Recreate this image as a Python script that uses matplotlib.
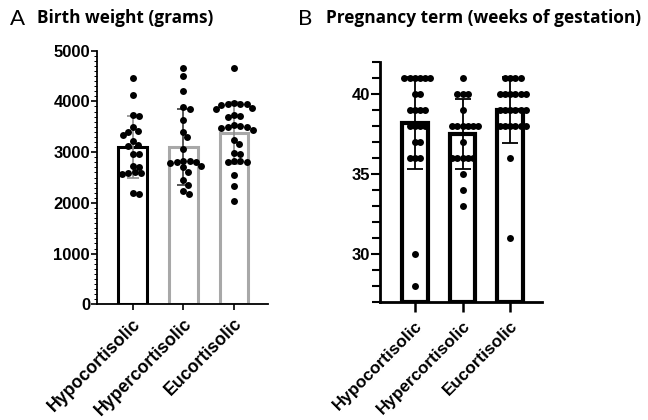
# -*- coding: utf-8 -*-
"""
Birth weight / pregnancy term by cortisol group - bar + scatter (mean ± SD)
output: out.png
"""

import numpy as np
import matplotlib
matplotlib.use("Agg")
import matplotlib.pyplot as plt
import matplotlib.ticker as mticker

plt.rcParams["font.family"] = ["Liberation Sans", "DejaVu Sans"]
plt.rcParams["font.weight"] = "bold"

# ── data ─────────────────────────────────────────────
groups = ["Hypocortisolic", "Hypercortisolic", "Eucortisolic"]

# A: birth weight (grams)
bw_hypo = [4470, 4130, 3730, 3720, 3500, 3420, 3400, 3340, 3220, 3150, 3130,
           2960, 2960, 2720, 2710, 2600, 2590, 2580, 2570, 2200, 2180]
bw_hyper = [4660, 4500, 4200, 3890, 3860, 3630, 3400, 3300, 3070, 2830, 2820,
            2810, 2800, 2790, 2720, 2700, 2610, 2450, 2360, 2240, 2180]
bw_eu = [4650, 3960, 3950, 3950, 3940, 3930, 3870, 3850, 3730, 3720, 3700,
         3530, 3520, 3500, 3490, 3470, 3430, 3240, 3160, 2980, 2960, 2830,
         2820, 2810, 2800, 2550, 2330, 2040]
bw_mean = [3110, 3110, 3370]
bw_sd = [610, 750, 610]

# B: pregnancy term (weeks)
wk_hypo = [41] * 6 + [40] * 2 + [39] * 4 + [38] * 4 + [37] * 2 + [36] * 3 + [30, 28]
wk_hyper = [41] + [40] * 3 + [39] + [38] * 6 + [37] + [36] * 5 + [35, 34, 33]
wk_eu = [41] * 4 + [40] * 6 + [39] * 6 + [38] * 6 + [36, 31]
wk_mean = [38.2, 37.5, 39.0]
wk_sd = [2.9, 2.2, 2.05]


def swarm_x(ax, x0, values, d):
    """simple beeswarm: horizontal offsets (data units) so dots of diameter d px don't overlap"""
    values = np.asarray(values, dtype=float)
    ys = ax.transData.transform(np.column_stack([np.full(len(values), x0), values]))[:, 1]
    order = np.argsort(-ys)
    placed = []
    xs = np.zeros(len(values))
    for i in order:
        y = ys[i]
        cands = [0.0]
        for px, py in placed:
            dy = abs(py - y)
            if dy < d:
                dx = np.sqrt(d * d - dy * dy)
                cands += [px + dx, px - dx]
        cands.sort(key=abs)
        for c in cands:
            if all((c - px) ** 2 + (y - py) ** 2 >= d * d - 1e-6 for px, py in placed):
                xs[i] = c
                break
        placed.append((xs[i], y))
    x0pix = ax.transData.transform((x0, 0))[0]
    return ax.transData.inverted().transform(np.column_stack([x0pix + xs, ys]))[:, 0]


fig = plt.figure(figsize=(6.48, 4.2), dpi=100)

# ── panel A ─────────────────────────────────────────
axA = fig.add_axes([97 / 648, (420 - 304.3) / 420, 171 / 648, 253.6 / 420])
axA.set_xlim(-0.70, 2.67)
axA.set_ylim(0, 5000)
x = np.arange(3)
edgeA = ["black", "#a8a8a8", "#a8a8a8"]
errA = ["#8c8c8c", "#3a3a3a", "#8c8c8c"]
axA.bar(x, bw_mean, width=0.565, color="white", edgecolor=edgeA, linewidth=2.2, zorder=2)
for i in range(3):
    axA.errorbar(x[i], bw_mean[i], yerr=bw_sd[i], fmt="none", ecolor=errA[i],
                 elinewidth=1.2, capsize=4, capthick=1.2, zorder=3)
for i, vals in enumerate([bw_hypo, bw_hyper, bw_eu]):
    axA.scatter(swarm_x(axA, i, vals, 6.5), vals, s=25, color="black", zorder=4, linewidths=0)

axA.yaxis.set_major_locator(mticker.MultipleLocator(1000))
axA.yaxis.set_minor_locator(mticker.MultipleLocator(100))
axA.set_xticks(x)
axA.set_xticklabels(groups, rotation=45, ha="right", rotation_mode="anchor")
axA.tick_params(axis="y", which="major", length=4.5, width=1.2, pad=0.5, labelsize=12)
axA.tick_params(axis="y", which="minor", length=2, width=0.7)
axA.tick_params(axis="x", length=4, width=1.2, pad=4, labelsize=12.8)
for s in ["top", "right"]:
    axA.spines[s].set_visible(False)
for s in ["left", "bottom"]:
    axA.spines[s].set_linewidth(1.3)

# ── panel B ─────────────────────────────────────────
axB = fig.add_axes([379.5 / 648, (420 - 301.7) / 420, 162.2 / 648, 239.4 / 420])
axB.set_xlim(-0.74, 2.66)
axB.set_ylim(27, 42)
axB.bar(x, np.array(wk_mean) - 27, bottom=27, width=0.54, color="white",
        edgecolor="black", linewidth=3, zorder=2)
axB.errorbar(x, wk_mean, yerr=wk_sd, fmt="none", ecolor="black",
             elinewidth=1.3, capsize=6, capthick=1.3, zorder=3)
for i, vals in enumerate([wk_hypo, wk_hyper, wk_eu]):
    axB.scatter(swarm_x(axB, i, vals, 5.2), vals, s=25, color="black", zorder=4, linewidths=0)

axB.yaxis.set_major_locator(mticker.FixedLocator([30, 35, 40]))
axB.yaxis.set_minor_locator(mticker.MultipleLocator(1))
axB.set_xticks(x)
axB.set_xticklabels(groups, rotation=45, ha="right", rotation_mode="anchor")
axB.tick_params(axis="y", which="major", length=6.5, width=1.5, pad=0.5, labelsize=12)
axB.tick_params(axis="y", which="minor", length=5.5, width=1.5)
axB.tick_params(axis="x", length=7, width=1.8, pad=5, labelsize=12.3)
for s in ["top", "right"]:
    axB.spines[s].set_visible(False)
for s in ["left", "bottom"]:
    axB.spines[s].set_linewidth(2)

# ── titles ───────────────────────────────────────────
fig.text(10 / 648, 1 - 25 / 420, "A", fontsize=16, fontweight="normal",
         family=["Lato", "DejaVu Sans"], va="baseline")
fig.text(37 / 648, 1 - 23 / 420, "Birth weight (grams)", fontsize=12.4, fontweight="bold",
         family=["Open Sans", "DejaVu Sans"], va="baseline")
fig.text(298 / 648, 1 - 25 / 420, "B", fontsize=16, fontweight="normal",
         family=["Lato", "DejaVu Sans"], va="baseline")
fig.text(326 / 648, 1 - 23 / 420, "Pregnancy term (weeks of gestation)", fontsize=12.4,
         fontweight="bold", family=["Open Sans", "DejaVu Sans"], va="baseline")

fig.savefig("out.png", dpi=100)
plt.close(fig)
